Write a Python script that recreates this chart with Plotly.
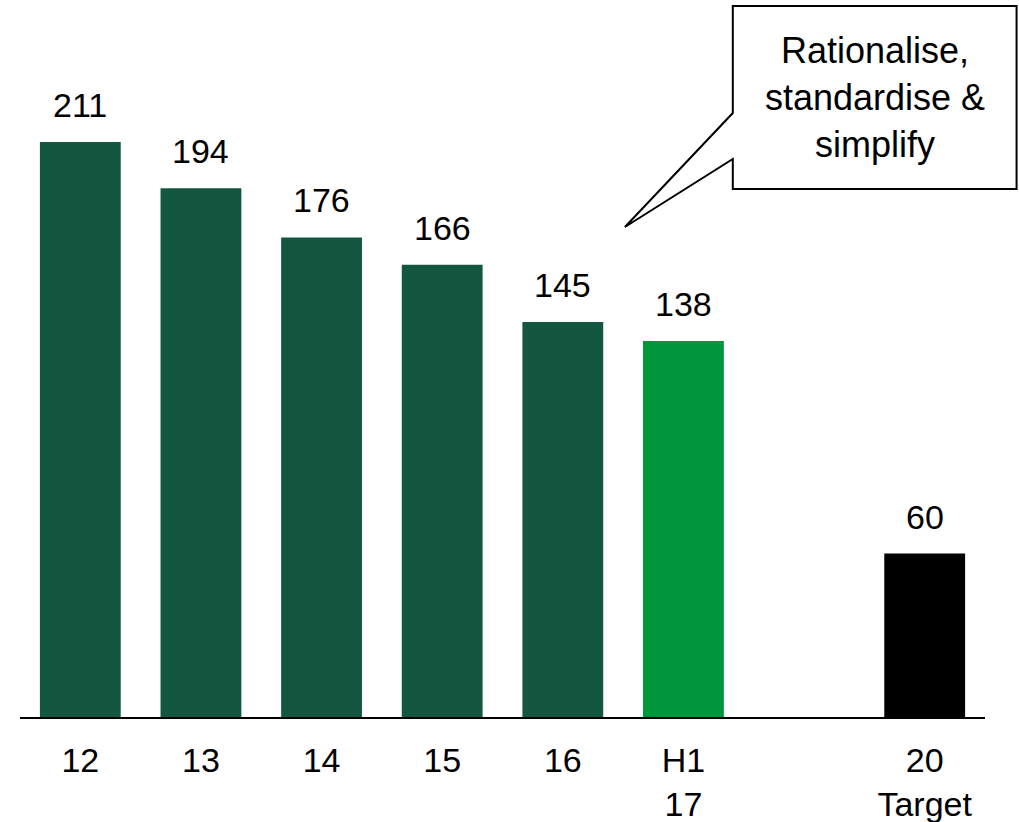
import plotly.graph_objects as go

# Category slots (one empty slot before the target) and values
categories = ["12", "13", "14", "15", "16", "H1<br>17", "", "20<br>Target"]
values = [211, 194, 176, 166, 145, 138, None, 60]
bar_colors = ["#135741", "#135741", "#135741", "#135741", "#135741",
              "#00963C", "#FFFFFF", "#000000"]
callout_text = "Rationalise,<br>standardise &<br>simplify"

FONT = "Liberation Sans, Arial, sans-serif"
W, H = 1019, 822
ML, MR, MT, MB = 19.6, 33.6, 0, 105
plot_w = W - ML - MR
plot_h = H - MT - MB

slots = list(range(len(categories)))

fig = go.Figure()
fig.add_trace(go.Bar(
    x=slots,
    y=values,
    marker=dict(color=bar_colors, line=dict(width=0)),
    hoverinfo="skip",
))

# Value labels above each bar
for pos, val in zip(slots, values):
    if val is None:
        continue
    fig.add_annotation(
        x=pos, y=val, xref="x", yref="y",
        text=str(val), showarrow=False,
        yanchor="bottom", yshift=16,
        font=dict(family=FONT, size=34, color="#000000"),
    )


def px_to_paper(px, py):
    return (px - ML) / plot_w, (H - MB - py) / plot_h


# Speech-bubble callout (box with a pointer towards the bars)
box_l, box_r, box_t, box_b = 733, 1017, 6, 189
tail_hi, tail_lo = 113, 159
tip = (625, 227)
pts = [(box_l, box_t), (box_r, box_t), (box_r, box_b), (box_l, box_b),
       (box_l, tail_lo), tip, (box_l, tail_hi)]
path = ""
for i, (px, py) in enumerate(pts):
    xx, yy = px_to_paper(px, py)
    path += ("M" if i == 0 else " L") + f"{xx:.5f},{yy:.5f}"
path += " Z"
fig.add_shape(type="path", path=path, xref="paper", yref="paper",
              line=dict(color="#000000", width=2), fillcolor="#FFFFFF",
              layer="above")

cx, cy = px_to_paper((box_l + box_r) / 2, (box_t + box_b) / 2)
fig.add_annotation(
    x=cx, y=cy, xref="paper", yref="paper",
    text=callout_text, showarrow=False,
    xanchor="center", yanchor="middle", align="center",
    font=dict(family=FONT, size=36, color="#000000"),
)

fig.update_layout(
    width=W, height=H,
    margin=dict(l=ML, r=MR, t=MT, b=MB, pad=0, autoexpand=False),
    paper_bgcolor="#FFFFFF", plot_bgcolor="#FFFFFF",
    bargap=0.33,
    showlegend=False,
    font=dict(family=FONT, color="#000000"),
)
fig.update_xaxes(
    range=[-0.5, len(categories) - 0.5],
    tickmode="array", tickvals=slots, ticktext=categories,
    showline=True, linecolor="#000000", linewidth=1.5,
    showgrid=False, zeroline=False,
    ticks="outside", ticklen=0, tickcolor="#FFFFFF",
    ticklabelstandoff=12,
    tickfont=dict(family=FONT, size=34, color="#000000"),
    automargin=False,
    fixedrange=True,
)
fig.update_yaxes(
    range=[0, plot_h / 2.725],
    visible=False, showgrid=False, zeroline=False,
    automargin=False,
    fixedrange=True,
)

fig.write_html("out.html", config={"displayModeBar": False})
